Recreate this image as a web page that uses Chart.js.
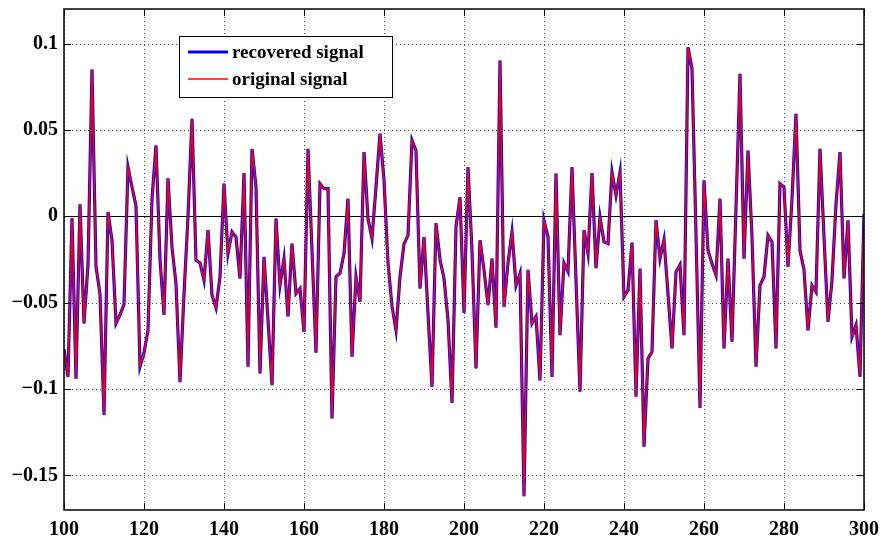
<!DOCTYPE html>
<html>
<head>
<meta charset="utf-8">
<script src="https://cdn.jsdelivr.net/npm/chart.js@4.4.0/dist/chart.umd.min.js"></script>
<style>
  body { margin: 0; background: #fff; }
  #wrap { width: 885px; height: 540px; }
</style>
</head>
<body>
<div id="wrap"><canvas id="myChart" width="885" height="540"></canvas></div>
<script>
// DATA (samples 100..300)
const sampleStart = 100;
const original = [
  -0.077, -0.093, -0.001, -0.094, 0.007, -0.062, -0.028, 0.085, -0.029, -0.045,
  -0.115, 0.0025, -0.014, -0.062, -0.057, -0.051, 0.0285, 0.017, 0.006, -0.087,
  -0.079, -0.066, 0.010, 0.041, -0.025, -0.057, 0.022, -0.018, -0.039, -0.096,
  -0.045, 0.0, 0.0565, -0.0254, -0.027, -0.037, -0.008, -0.0457, -0.053, -0.035,
  0.019, -0.0216, -0.009, -0.012, -0.036, 0.025, -0.087, 0.039, 0.017, -0.091,
  -0.0235, -0.06, -0.0977, -0.0013, -0.040, -0.0245, -0.058, -0.0158, -0.0447, -0.0418,
  -0.0669, 0.0391, -0.02, -0.079, 0.0189, 0.016, 0.016, -0.117, -0.035, -0.033,
  -0.0216, 0.0102, -0.0813, -0.035, -0.0495, 0.0372, -0.0013, -0.0129, 0.017, 0.0478,
  0.021, -0.027, -0.052, -0.066, -0.035, -0.016, -0.011, 0.044, 0.038, -0.0418,
  -0.012, -0.056, -0.0987, -0.004, -0.025, -0.036, -0.06, -0.108, -0.006, 0.011,
  -0.056, 0.0285, -0.02, -0.088, -0.0139, -0.031, -0.0514, -0.0245, -0.0645, 0.0902,
  -0.0524, -0.027, -0.009, -0.04, -0.033, -0.162, -0.031, -0.062, -0.058, -0.095,
  -0.0023, -0.012, -0.093, 0.0247, -0.0688, -0.027, -0.032, 0.0285, -0.037, -0.1015,
  -0.008, -0.0216, 0.025, -0.030, -0.0004, -0.0148, -0.0158, 0.0256, 0.0121, 0.0256,
  -0.0466, -0.0428, -0.0152, -0.1044, -0.0302, -0.1333, -0.0823, -0.0784, -0.0023, -0.0245,
  -0.0135, -0.045, -0.0765, -0.032, -0.028, -0.0688, 0.0979, 0.0854, -0.01, -0.111,
  0.0208, -0.0197, -0.0274, -0.034, 0.0102, -0.0765, -0.0245, -0.0726, 0.005, 0.0825,
  -0.0245, 0.038, -0.012, -0.087, -0.040, -0.035, -0.011, -0.0148, -0.0765, 0.0189,
  0.017, -0.0293, 0.01, 0.0593, -0.0197, -0.031, -0.066, -0.040, -0.0437, 0.0391,
  -0.012, -0.0611, -0.037, 0.007, 0.0372, -0.036, -0.0023, -0.0697, -0.063, -0.0929,
  0.0015
];
// recovered signal lies on top of the original everywhere in the picture
const recovered = original.slice();

const xTicks = [100, 120, 140, 160, 180, 200, 220, 240, 260, 280, 300];
const yTicks = [-0.15, -0.1, -0.05, 0, 0.05, 0.1];
const yTickLabels = ['\u22120.15', '\u22120.1', '\u22120.05', '0', '0.05', '0.1'];
const seriesNames = ['recovered signal', 'original signal'];

function toPoints(arr) {
    return arr.map(function(v, i) { return { x: sampleStart + i, y: v }; });
}

// MATLAB STYLE FRAME: dotted grid, box, inward ticks, zero line, legend
const matlabFrame = {
    id: 'matlabFrame',
    beforeDatasetsDraw(chart) {
        const ctx = chart.ctx, a = chart.chartArea;
        const xs = chart.scales.x, ys = chart.scales.y;
        ctx.save();
        ctx.strokeStyle = '#444';
        ctx.lineWidth = 1;
        ctx.setLineDash([1, 3]);
        xTicks.forEach(function(t) {
            const px = Math.round(xs.getPixelForValue(t)) + 0.5;
            ctx.beginPath(); ctx.moveTo(px, a.top); ctx.lineTo(px, a.bottom); ctx.stroke();
        });
        yTicks.forEach(function(t) {
            const py = Math.round(ys.getPixelForValue(t)) + 0.5;
            ctx.beginPath(); ctx.moveTo(a.left, py); ctx.lineTo(a.right, py); ctx.stroke();
        });
        ctx.setLineDash([]);
        // zero line
        ctx.strokeStyle = '#000';
        const y0 = Math.round(ys.getPixelForValue(0)) + 0.5;
        ctx.beginPath(); ctx.moveTo(a.left, y0); ctx.lineTo(a.right, y0); ctx.stroke();
        ctx.restore();
    },
    afterDraw(chart) {
        const ctx = chart.ctx, a = chart.chartArea;
        const xs = chart.scales.x, ys = chart.scales.y;
        ctx.save();
        ctx.strokeStyle = '#000';
        ctx.lineWidth = 1.5;
        ctx.strokeRect(a.left, a.top, a.right - a.left, a.bottom - a.top);
        ctx.lineWidth = 1;
        const tl = 7;
        xTicks.forEach(function(t) {
            const px = Math.round(xs.getPixelForValue(t)) + 0.5;
            ctx.beginPath();
            ctx.moveTo(px, a.bottom); ctx.lineTo(px, a.bottom - tl);
            ctx.moveTo(px, a.top); ctx.lineTo(px, a.top + tl);
            ctx.stroke();
        });
        yTicks.forEach(function(t) {
            const py = Math.round(ys.getPixelForValue(t)) + 0.5;
            ctx.beginPath();
            ctx.moveTo(a.left, py); ctx.lineTo(a.left + tl, py);
            ctx.moveTo(a.right, py); ctx.lineTo(a.right - tl, py);
            ctx.stroke();
        });

        // legend box
        const bx = 179.5, by = 36.5, bw = 213, bh = 61;
        ctx.fillStyle = '#fff';
        ctx.fillRect(bx, by, bw, bh);
        ctx.lineWidth = 1;
        ctx.strokeRect(bx, by, bw, bh);
        const ds = chart.data.datasets;
        const rows = [52, 79];
        ctx.font = 'bold 19px "Liberation Serif", "Times New Roman", serif';
        ctx.textBaseline = 'middle';
        ctx.fillStyle = '#000';
        for (let i = 0; i < 2; i++) {
            ctx.strokeStyle = ds[i].borderColor;
            ctx.lineWidth = ds[i].borderWidth;
            ctx.beginPath(); ctx.moveTo(188, rows[i]); ctx.lineTo(228, rows[i]); ctx.stroke();
            ctx.fillText(ds[i].label, 232, rows[i] + 1);
        }
        ctx.restore();
    }
};

const tickFont = { family: '"Liberation Serif", "Times New Roman", serif', size: 20, weight: 'bold' };

const ctx = document.getElementById('myChart').getContext('2d');
new Chart(ctx, {
    type: 'line',
    data: {
        datasets: [
            {
                label: seriesNames[0],
                data: toPoints(recovered),
                borderColor: '#0000ff',
                borderWidth: 3.2,
                pointRadius: 0,
                tension: 0,
                order: 2
            },
            {
                label: seriesNames[1],
                data: toPoints(original),
                borderColor: '#ff0000',
                borderWidth: 1.5,
                pointRadius: 0,
                tension: 0,
                order: 1
            }
        ]
    },
    options: {
        responsive: false,
        animation: false,
        layout: { padding: { left: 0, right: 21, top: 9, bottom: 0 } },
        plugins: {
            legend: { display: false },
            tooltip: { enabled: false }
        },
        scales: {
            x: {
                type: 'linear',
                min: 100,
                max: 300,
                grid: { display: false, drawTicks: false },
                border: { display: false },
                afterBuildTicks: function(s) { s.ticks = xTicks.map(function(v) { return { value: v }; }); },
                afterFit: function(s) {
                    s.height = 30;
                    s.paddingLeft = 0;
                    s.paddingRight = 0;
                },
                ticks: {
                    color: '#000',
                    font: tickFont,
                    padding: 8,
                    maxRotation: 0,
                    callback: function(v) { return String(v); }
                }
            },
            y: {
                type: 'linear',
                min: -0.17,
                max: 0.12,
                grid: { display: false, drawTicks: false },
                border: { display: false },
                afterBuildTicks: function(s) { s.ticks = yTicks.map(function(v) { return { value: v }; }); },
                afterFit: function(s) {
                    s.width = 64;
                    s.paddingTop = 0;
                    s.paddingBottom = 0;
                },
                ticks: {
                    color: '#000',
                    font: tickFont,
                    padding: 6,
                    callback: function(v) {
                        const i = yTicks.findIndex(function(t) { return Math.abs(t - v) < 1e-9; });
                        return i >= 0 ? yTickLabels[i] : '';
                    }
                }
            }
        }
    },
    plugins: [matlabFrame]
});
</script>
</body>
</html>
